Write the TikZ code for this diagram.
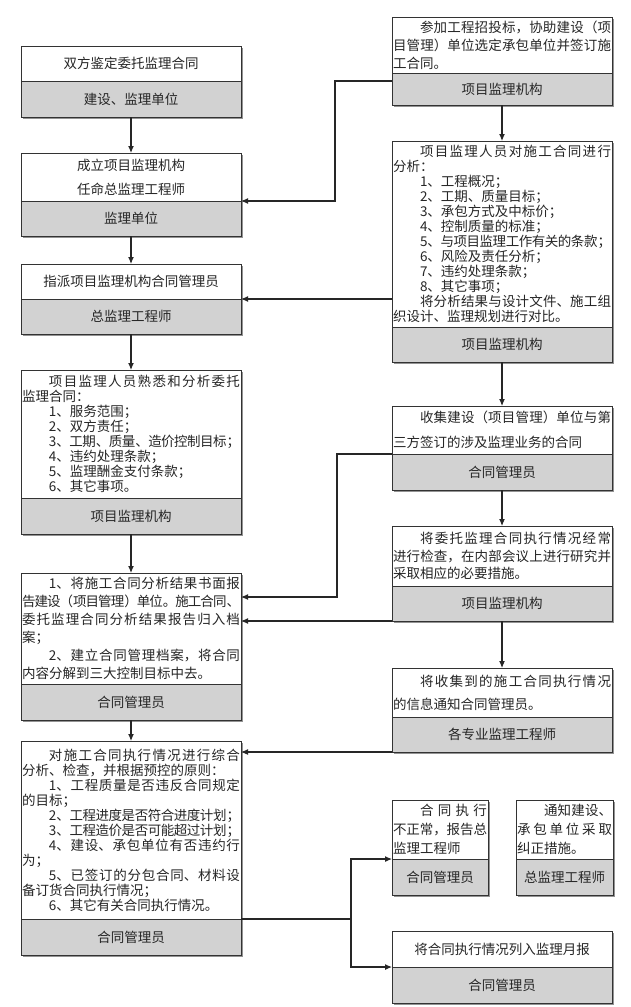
\documentclass[tikz,border=0pt]{standalone}
\usepackage{fontspec}
\setmainfont{Noto Sans CJK SC}
\usetikzlibrary{arrows.meta,shadows}
\XeTeXlinebreaklocale "zh"
\XeTeXlinebreakskip=0pt plus 4pt minus 1.5pt
\tolerance=10000
\hbadness=10000
\newcommand{\indt}{\hspace*{2em}}

\begin{document}
\begin{tikzpicture}[x=1pt, y=-1pt,
  every node/.style={rectangle, draw=black!80, line width=1pt, outer sep=0pt, inner xsep=1pt, inner ysep=1pt, text=black!85, font=\fontsize{13.5}{15}\selectfont},
  boxshadow/.style={drop shadow={shadow xshift=2pt, shadow yshift=-2pt, fill=black!60, opacity=0.7}},
  txt/.style={fill=white, text width=218pt, minimum height=#1, align=justify, anchor=north west, boxshadow},
  ctxt/.style={fill=white, minimum width=220pt, minimum height=#1, align=center, anchor=north west, boxshadow},
  lab/.style={fill=gray!35, minimum width=220pt, minimum height=#1, anchor=north, boxshadow},
  sp/.style={font=\fontsize{13.5}{#1}\selectfont},
  conn/.style={draw=black!85, line width=1.1pt},
  arr/.style={conn, -{Latex[length=7pt, width=6pt]}}]
  \fill[white] (0,0) rectangle (630,1007);
  \useasboundingbox (0,0) rectangle (630,1007);

  % left column
  \node[ctxt=35pt] (a) at (21,46) {双方鉴定委托监理合同};
  \node[lab=36pt] (a2) at (a.south) {建设、监理单位};

  \node[ctxt=48pt, sp=24] (b) at (21,153) {成立项目监理机构\\任命总监理工程师};
  \node[lab=35pt] (b2) at (b.south) {监理单位};

  \node[ctxt=35pt] (c) at (21,264) {指派项目监理机构合同管理员};
  \node[lab=35pt] (c2) at (c.south) {总监理工程师};

  \node[txt=128pt] (d) at (21,370) {\indt 项目监理人员熟悉和分析委托\linebreak
    监理合同：\\
    \indt 1、服务范围；\\
    \indt 2、双方责任；\\
    \indt 3、工期、质量、造价控制目标；\\
    \indt 4、违约处理条款；\\
    \indt 5、监理酬金支付条款；\\
    \indt 6、其它事项。};
  \node[lab=36pt] (d2) at (d.south) {项目监理机构};

  \node[txt=111pt, sp=18] (e) at (21,573) {\indt 1、将施工合同分析结果书面报\linebreak
    告建设（项目管理）单位。施工合同、\linebreak
    委托监理合同分析结果报告归入档\linebreak
    案；\\
    \indt 2、建立合同管理档案，将合同\linebreak
    内容分解到三大控制目标中去。};
  \node[lab=36pt] (e2) at (e.south) {合同管理员};

  \node[txt=178pt] (f) at (21,741) {\indt 对施工合同执行情况进行综合\linebreak
    分析、检查，并根据预控的原则：\\
    \indt 1、工程质量是否违反合同规定\linebreak
    的目标；\\
    \indt 2、工程进度是否符合进度计划；\\
    \indt 3、工程造价是否可能超过计划；\\
    \indt 4、建设、承包单位有否违约行\linebreak
    为；\\
    \indt 5、已签订的分包合同、材料设\linebreak
    备订货合同执行情况；\\
    \indt 6、其它有关合同执行情况。};
  \node[lab=36pt] (f2) at (f.south) {合同管理员};

  % right column
  \node[txt=56pt, sp=18] (g) at (392,17) {\indt 参加工程招投标，协助建设（项\linebreak
    目管理）单位选定承包单位并签订施\linebreak
    工合同。};
  \node[lab=32pt] (g2) at (g.south) {项目监理机构};

  \node[txt=186pt] (h) at (392,141) {\indt 项目监理人员对施工合同进行\linebreak
    分析：\\
    \indt 1、工程概况；\\
    \indt 2、工期、质量目标；\\
    \indt 3、承包方式及中标价；\\
    \indt 4、控制质量的标准；\\
    \indt 5、与项目监理工作有关的条款；\\
    \indt 6、风险及责任分析；\\
    \indt 7、违约处理条款；\\
    \indt 8、其它事项；\\
    \indt 将分析结果与设计文件、施工组\linebreak
    织设计、监理规划进行对比。};
  \node[lab=35pt] (h2) at (h.south) {项目监理机构};

  \node[txt=48pt, sp=25] (i) at (392,406) {\indt 收集建设（项目管理）单位与第\linebreak
    三方签订的涉及监理业务的合同};
  \node[lab=36pt] (i2) at (i.south) {合同管理员};

  \node[txt=60pt, sp=17.5] (j) at (392,526) {\indt 将委托监理合同执行情况经常\linebreak
    进行检查，在内部会议上进行研究并\linebreak
    采取相应的必要措施。};
  \node[lab=35pt] (j2) at (j.south) {项目监理机构};

  \node[txt=49pt, sp=23] (k) at (392,668) {\indt 将收集到的施工合同执行情况\linebreak
    的信息通知合同管理员。};
  \node[lab=35pt] (k2) at (k.south) {各专业监理工程师};

  \node[txt=59pt, sp=19, text width=94pt] (l) at (392,800) {\indt 合同执行\linebreak
    不正常，报告总\linebreak
    监理工程师};
  \node[lab=36pt, minimum width=96pt] (l2) at (l.south) {合同管理员};

  \node[txt=59pt, sp=19, text width=95pt] (m) at (516,800) {\indt 通知建设、\linebreak
    承包单位采取\linebreak
    纠正措施。};
  \node[lab=36pt, minimum width=97pt] (m2) at (m.south) {总监理工程师};

  \node[ctxt=36pt] (n) at (392,931) {将合同执行情况列入监理月报};
  \node[lab=36pt] (n2) at (n.south) {合同管理员};

  % bends
  \coordinate (p1) at (335,201);
  \coordinate (p2) at (337,597);
  \coordinate (p3) at (351,919);

  % connectors
  \draw[arr] (a2) -- (b);
  \draw[arr] (b2) -- (c);
  \draw[arr] (c2) -- (d);
  \draw[arr] (d2) -- (e);
  \draw[arr] (e2) -- (f);
  \draw[arr] (g2) -- (h);
  \draw[arr] (h2) -- (i);
  \draw[arr] (i2) -- (j);
  \draw[arr] (j2) -- (k);

  \draw[arr] ([yshift=8pt]g2.west) -| (p1) -- (b2.north east);
  \draw[arr] (h.west |- c2.north east) -- (c2.north east);
  \draw[arr] (i2.north west) -| (p2) -- (e.east |- p2);
  \draw[arr] (j2.south west) -- (e.east |- j2.south west);
  \draw[arr] (k2.south west) -- (f.east |- k2.south west);
  \draw[conn] (f2.north east) -- (p3);
  \draw[arr] (p3) |- (l2.north west);
  \draw[arr] (p3) |- (n2.north west);
\end{tikzpicture}
\end{document}
